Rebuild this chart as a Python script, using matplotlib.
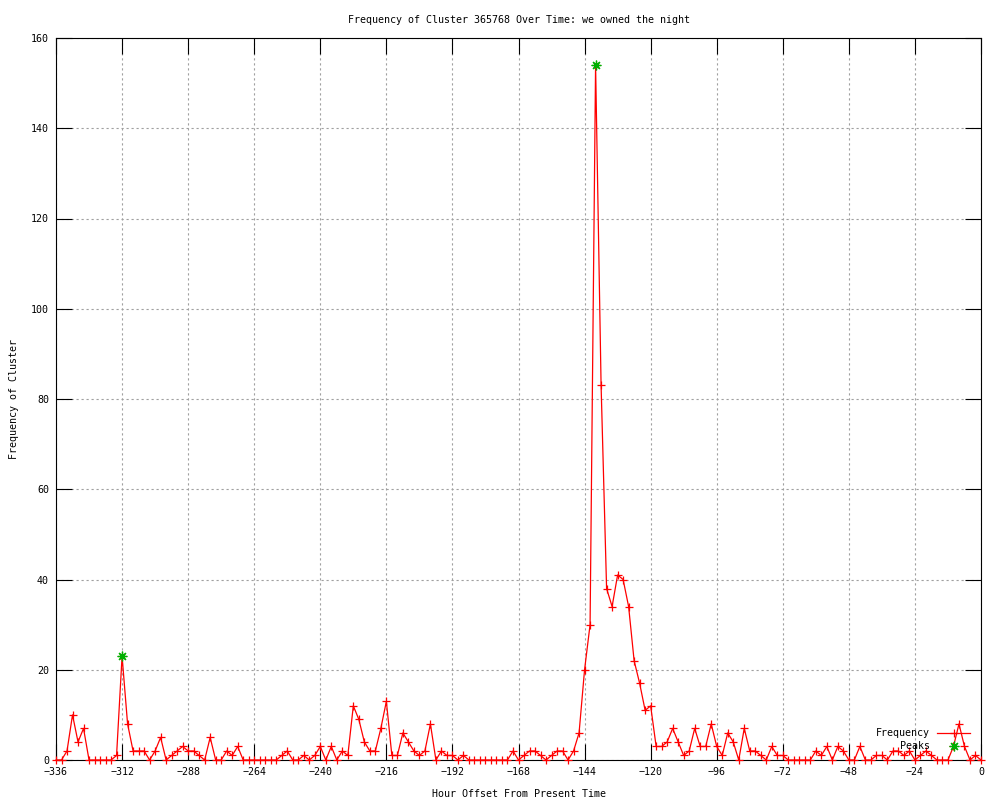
#!/bin/python

# Plots the hourly frequency of one cluster over the last two weeks,
# in the old gnuplot png look (red line with + points, green peaks).

###########
# MODULES #
###########

import numpy as np
import matplotlib
matplotlib.use('Agg')
import matplotlib.pyplot as plt

########
# DATA #
########

# Hour offsets from present time, one sample every 2 hours

hours = np.arange(-336, 1, 2)

frequency = [
    0, 0, 2, 10, 4, 7, 0, 0, 0, 0, 0, 1, 23, 8, 2, 2, 2, 0, 2, 5,      # -336 .. -298
    0, 1, 2, 3, 2, 2, 1, 0, 5, 0, 0, 2, 1, 3, 0, 0, 0, 0, 0, 0,        # -296 .. -258
    0, 1, 2, 0, 0, 1, 0, 1, 3, 0, 3, 0, 2, 1, 12, 9, 4, 2, 2, 7,       # -256 .. -218
    13, 1, 1, 6, 4, 2, 1, 2, 8, 0, 2, 1, 1, 0, 1, 0, 0, 0, 0, 0,       # -216 .. -178
    0, 0, 0, 2, 0, 1, 2, 2, 1, 0, 1, 2, 2, 0, 2, 6, 20, 30, 154, 83,   # -176 .. -138
    38, 34, 41, 40, 34, 22, 17, 11, 12, 3, 3, 4, 7, 4, 1, 2, 7, 3, 3, 8,  # -136 .. -98
    3, 1, 6, 4, 0, 7, 2, 2, 1, 0, 3, 1, 1, 0, 0, 0, 0, 0, 2, 1,        # -96 .. -58
    3, 0, 3, 2, 0, 0, 3, 0, 0, 1, 1, 0, 2, 2, 1, 2, 0, 1, 2, 1,        # -56 .. -18
    0, 0, 0, 3, 8, 3, 0, 1, 0,                                         # -16 .. 0
]

peak_hours = [-312, -140]
peak_values = [23, 154]

x_ticks = np.arange(-336, 1, 24)
y_ticks = np.arange(0, 161, 20)

title = 'Frequency of Cluster 365768 Over Time: we owned the night'

############
# PLOTTING #
############

plt.rcParams['font.family'] = 'DejaVu Sans Mono'
plt.rcParams['font.size'] = 7.2

fig = plt.figure(figsize=(10, 8), dpi=100)
ax = fig.add_axes([0.056, 0.05, 0.925, 0.9025])

ax.plot(hours, frequency, color='#ff0000', linewidth=0.9, marker='+',
        markersize=6, markeredgewidth=0.9, clip_on=False, label='Frequency', zorder=3)
ax.plot(peak_hours, peak_values, linestyle='none', color='#00b000', marker=(8, 2, 0),
        markersize=7, markeredgewidth=0.9, clip_on=False, label='Peaks', zorder=4)

ax.set_xlim(-336, 0)
ax.set_ylim(0, 160)
ax.set_xticks(x_ticks)
ax.set_yticks(y_ticks)

ax.grid(True, color='#a0a0a0', linestyle=(0, (2, 2.5)), linewidth=0.8)
ax.set_axisbelow(True)
ax.tick_params(direction='in', length=11.5, width=0.8, top=True, right=True,
               labelsize=7.2, pad=5, colors='black')
for side in ax.spines.values():
    side.set_linewidth(0.8)

ax.set_title(title, fontsize=7.2, pad=11)
ax.set_xlabel('Hour Offset From Present Time', fontsize=7.2, labelpad=9)
ax.set_ylabel('Frequency of Cluster', fontsize=7.2, labelpad=9)

ax.legend(loc='lower right', bbox_to_anchor=(0.970, 0.061), bbox_transform=fig.transFigure,
          frameon=False, markerfirst=False, handlelength=3.3, handletextpad=0.7,
          labelspacing=0.3, borderpad=0, borderaxespad=0, fontsize=7.2)

fig.savefig('out.png', dpi=100)
plt.close()
